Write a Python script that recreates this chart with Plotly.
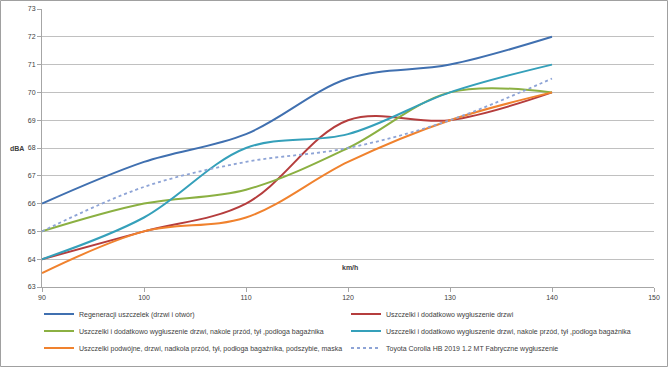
import plotly.graph_objects as go

speeds = [90, 100, 110, 120, 130, 140]
names = [
    "Regeneracji uszczelek (drzwi i otwór)",
    "Uszczelki i dodatkowo wygłuszenie drzwi",
    "Uszczelki i dodatkowo wygłuszenie drzwi, nakole przód, tył ,podłoga bagażnika",
    "Uszczelki i dodatkowo wygłuszenie drzwi, nakole przód, tył ,podłoga bagażnika",
    "Uszczelki podwójne, drzwi, nadkola przód, tył, podłoga bagażnika, podszybie, maska",
    "Toyota Corolla HB 2019 1.2 MT Fabryczne wygłuszenie",
]
regeneracji = [66, 67.5, 68.5, 70.5, 71, 72]
drzwi = [64, 65, 66, 69, 69, 70]
nakole_a = [65, 66, 66.5, 68, 70, 70]
nakole_b = [64, 65.5, 68, 68.5, 70, 71]
podwojne = [63.5, 65, 65.5, 67.5, 69, 70]
fabryczne = [65, 66.6, 67.5, 68, 69, 70.5]

series = [regeneracji, drzwi, nakole_a, nakole_b, podwojne, fabryczne]
colors = ["#4070B0", "#B53D3D", "#8BB042", "#35A0BA", "#F0822E", "#8EA4D6"]
dashes = ["solid"] * 5 + ["dot"]
legend_ids = ["legend", "legend", "legend2", "legend2", "legend3", "legend3"]

fig = go.Figure()
for nm, vals, c, d, lg in zip(names, series, colors, dashes, legend_ids):
    fig.add_trace(go.Scatter(
        x=speeds, y=vals, name=nm, mode="lines", legend=lg,
        line=dict(color=c, width=2 if d == "solid" else 1.8, dash=d, shape="spline", smoothing=1.0),
    ))

W, H = 669, 368
L, R, T, B = 42, 15, 9, 81
pw = W - L - R
ph = H - T - B

def leg(row_y):
    return dict(
        orientation="h", x=(39 - L) / pw, y=(H - B - row_y) / ph, xanchor="left", yanchor="middle",
        entrywidth=262, entrywidthmode="pixels", itemwidth=30,
        font=dict(size=7, color="#404040"),
        bgcolor="rgba(0,0,0,0)",
    )

fig.update_layout(
    width=W, height=H,
    margin=dict(l=L, r=R, t=T, b=B, autoexpand=False),
    paper_bgcolor="white", plot_bgcolor="white",
    font=dict(family="Liberation Sans, Arial, sans-serif", size=7, color="#404040"),
    showlegend=True,
    legend=leg(314),
    legend2=leg(331),
    legend3=leg(348),
    xaxis=dict(
        range=[90, 150], tickmode="linear", tick0=90, dtick=10,
        showgrid=False, showline=True, linecolor="#A6A6A6", linewidth=1,
        ticks="outside", ticklen=4, tickcolor="#A6A6A6", zeroline=False,
        tickfont=dict(size=7, color="#404040"),
    ),
    yaxis=dict(
        range=[63, 73], tickmode="linear", tick0=63, dtick=1,
        showgrid=True, gridcolor="#C0C0C0", gridwidth=1,
        showline=True, linecolor="#A6A6A6", linewidth=1,
        ticks="outside", ticklen=4, tickcolor="#A6A6A6", zeroline=False,
        tickfont=dict(size=7, color="#404040"),
    ),
    annotations=[
        dict(text="<b>dBA</b>", xref="paper", yref="y", x=-25 / pw, y=68, showarrow=False,
             xanchor="center", yanchor="middle", font=dict(size=7, color="#404040")),
        dict(text="<b>km/h</b>", xref="paper", yref="paper", x=0.503, y=20 / ph, showarrow=False,
             xanchor="center", yanchor="middle", font=dict(size=7, color="#404040")),
    ],
    shapes=[
        dict(type="rect", xref="paper", yref="paper",
             x0=-(L - 0.5) / pw, x1=1 + (R - 1.5) / pw, y0=-(B - 1.5) / ph, y1=1 + (T - 0.5) / ph,
             line=dict(color="#A0A0A0", width=1), fillcolor="rgba(0,0,0,0)", layer="below"),
    ],
)

fig.write_html("out.html", config={"displayModeBar": False},
               post_script="document.body.style.margin='0';document.body.style.overflow='hidden';")
